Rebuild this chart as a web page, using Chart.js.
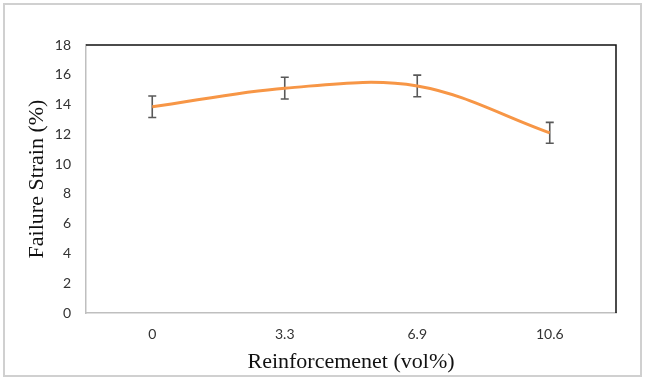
<!DOCTYPE html>
<html>
<head>
<meta charset="utf-8">
<script src="https://cdn.jsdelivr.net/npm/chart.js@4.4.1/dist/chart.umd.min.js"></script>
<style>
  html, body { margin: 0; padding: 0; background: #fff; }
  #wrap { width: 645px; height: 380px; }
</style>
</head>
<body>
<div id="wrap"><canvas id="strainChart" width="645" height="380"></canvas></div>
<script>
// Data
const categories = ['0', '3.3', '6.9', '10.6'];
const failureStrain = [13.85, 15.1, 15.25, 12.1];
const strainError = [0.72, 0.73, 0.73, 0.7];
const yMin = 0;
const yMax = 18;
const yStep = 2;

// error bars, drawn from the y scale
const errorBars = {
    id: 'errorBars',
    beforeDatasetsDraw(chart) {
        const ctx = chart.ctx;
        const y = chart.scales.y;
        const meta = chart.getDatasetMeta(0);
        ctx.save();
        ctx.strokeStyle = '#595959';
        ctx.lineWidth = 1.6;
        meta.data.forEach((pt, i) => {
            const top = y.getPixelForValue(failureStrain[i] + strainError[i]);
            const bot = y.getPixelForValue(failureStrain[i] - strainError[i]);
            ctx.beginPath();
            ctx.moveTo(pt.x, top); ctx.lineTo(pt.x, bot);
            ctx.moveTo(pt.x - 4, top); ctx.lineTo(pt.x + 4, top);
            ctx.moveTo(pt.x - 4, bot); ctx.lineTo(pt.x + 4, bot);
            ctx.stroke();
        });
        ctx.restore();
    }
};

// top/right frame in black, plus the light outer border of the figure
const frame = {
    id: 'frame',
    beforeDraw(chart) {
        const ctx = chart.ctx;
        ctx.save();
        ctx.fillStyle = '#fff';
        ctx.fillRect(0, 0, chart.width, chart.height);
        ctx.strokeStyle = '#d0d0d0';
        ctx.lineWidth = 2;
        ctx.strokeRect(4, 4, chart.width - 8, chart.height - 8);
        ctx.restore();
    },
    afterDraw(chart) {
        const a = chart.chartArea;
        const ctx = chart.ctx;
        ctx.save();
        ctx.strokeStyle = '#111';
        ctx.lineWidth = 1.5;
        ctx.beginPath();
        ctx.moveTo(a.left, a.top);
        ctx.lineTo(a.right, a.top);
        ctx.lineTo(a.right, a.bottom);
        ctx.stroke();
        ctx.restore();
    }
};

new Chart(document.getElementById('strainChart'), {
    type: 'line',
    data: {
        labels: categories,
        datasets: [{
            label: 'Failure Strain',
            data: failureStrain,
            borderColor: '#F79646',
            borderWidth: 3,
            pointRadius: 0,
            tension: 0.35,
            fill: false
        }]
    },
    options: {
        responsive: false,
        animation: false,
        layout: { padding: { left: 0, right: 29, top: 45, bottom: 0 } },
        plugins: { legend: { display: false }, tooltip: { enabled: false } },
        scales: {
            x: {
                offset: true,
                grid: { display: false, drawTicks: false },
                border: { color: '#bfbfbf', width: 1.5 },
                ticks: { color: '#333', padding: 13, font: { family: 'Lato', size: 14 } },
                title: {
                    display: true,
                    text: 'Reinforcemenet (vol%)',
                    color: '#111',
                    font: { family: 'Liberation Serif', size: 22 },
                    padding: { top: 0, bottom: 5 }
                },
                afterFit(scale) { scale.height = 67; }
            },
            y: {
                min: yMin,
                max: yMax,
                grid: { display: false, drawTicks: false },
                border: { color: '#bfbfbf', width: 1.5 },
                ticks: { stepSize: yStep, color: '#333', padding: 15, font: { family: 'Lato', size: 14 } },
                title: {
                    display: true,
                    text: 'Failure Strain (%)',
                    color: '#111',
                    font: { family: 'Liberation Serif', size: 22 },
                    padding: { top: 24, bottom: 0 }
                },
                afterFit(scale) { scale.width = 86; }
            }
        }
    },
    plugins: [frame, errorBars]
});
</script>
</body>
</html>
